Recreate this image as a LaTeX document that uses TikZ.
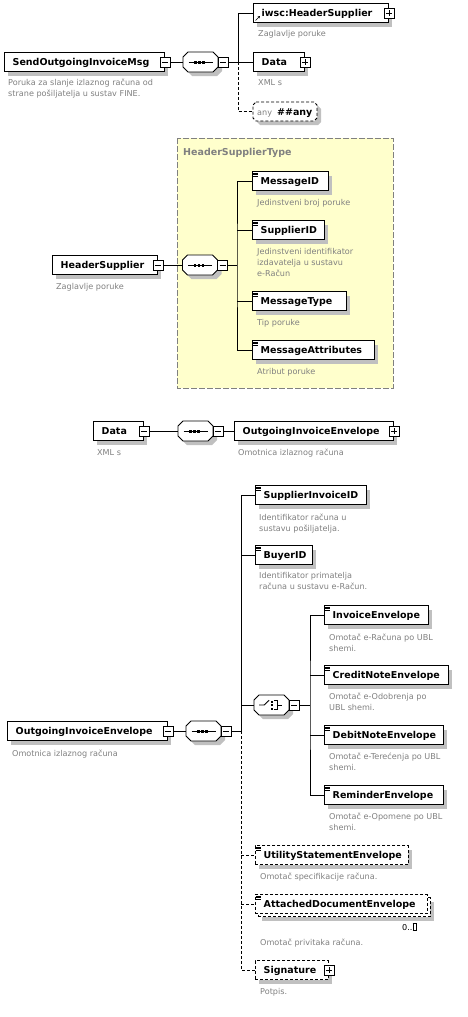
\documentclass[tikz,border=0pt]{standalone}
\usepackage{fontspec}
\setmainfont{DejaVu Sans}
\usetikzlibrary{calc,shadows,arrows.meta}
\definecolor{descgray}{HTML}{808080}
\definecolor{shgray}{HTML}{C0C0C0}
\definecolor{typeyellow}{HTML}{FFFFCC}
\tikzset{
  conn/.style={line width=0.9pt},
  dconn/.style={line width=0.9pt, dash pattern=on 3pt off 2pt},
  shad/.style={drop shadow={shadow xshift=4pt, shadow yshift=-4pt, fill=shgray, opacity=1}},
  ebox/.style={draw=black, fill=white, minimum height=19pt, inner sep=0pt, line width=0.9pt},
  eboxs/.style={ebox, shad},
  dbox/.style={ebox, dash pattern=on 3pt off 2pt},
  dboxs/.style={dbox, shad},
  ename/.style={font=\fontsize{9.5}{11}\bfseries\selectfont, inner sep=0pt},
  desc/.style={font=\fontsize{8.1}{10.7}\selectfont, text=descgray, inner sep=0pt, align=left},
  pmbox/.style={draw=black, fill=white, minimum size=10pt, inner sep=0pt, line width=0.8pt},
  pmsign/.style={line width=0.8pt},
  anchorbox/.style={minimum width=35pt, minimum height=20pt, inner sep=0pt},
}
\newcommand\elem[6][eboxs]{%
  \node[#1, minimum width=#5, anchor=west] (#2) at (#3,#4) {};
  \node[ename, anchor=base west] (#2t) at ($(#2.west)+(8.5,3.5)$) {#6};}
\newcommand\dsc[4]{\node[desc, anchor=north west] (#1) at (#2,#3-4.4) {\rule{0pt}{7pt}#4};}
\newcommand\pmminus[2]{\node[pmbox] (#1) at (#2) {};
  \draw[pmsign] ($(#1.center)+(-3,0)$) -- ($(#1.center)+(3,0)$);}
\newcommand\pmplus[2]{\pmminus{#1}{#2}
  \draw[pmsign] ($(#1.center)+(0,-3)$) -- ($(#1.center)+(0,3)$);}
\newcommand\octshape[6]{\path[#6] (#1-#3+#5,#2-#4) -- (#1+#3-#5,#2-#4) -- (#1+#3,#2-#4+#5) -- (#1+#3,#2+#4-#5) -- (#1+#3-#5,#2+#4) -- (#1-#3+#5,#2+#4) -- (#1-#3,#2+#4-#5) -- (#1-#3,#2-#4+#5) -- cycle;}
\newcommand\compframe[3]{%
  \octshape{#2+4}{#3+4}{17.5}{10}{5}{fill=shgray}
  \octshape{#2}{#3}{17.5}{10}{5}{fill=white, draw=black, conn}
  \node[anchorbox] (#1) at (#2,#3) {};
  \pmminus{#1pm}{#2+22.5,#3}}
\newcommand\seqcomp[3]{\compframe{#1}{#2}{#3}
  \draw[conn] (#2-12,#3) -- (#2+12,#3);
  \foreach \dx in {-5,-1,3} {\fill (#2+\dx-1.2,#3-1.5) rectangle ++(2.4,3);}}
\newcommand\choicecomp[3]{\compframe{#1}{#2}{#3}
  \draw[conn] (#2-12.4,#3) -- (#2-7.4,#3) -- (#2-2.4,#3-4.7);
  \foreach \dy in {-4.5,-1,2.5} {\fill (#2-1,#3+\dy) rectangle ++(2.6,2.2);}
  \draw[conn] (#2+2.6,#3-4.5) -- (#2+5.6,#3-4.5) -- (#2+5.6,#3+4.5) -- (#2+2.6,#3+4.5) (#2+5.6,#3) -- (#2+10,#3);}
\newcommand\sicon[1]{\draw[line width=0.6pt] ($(#1.north west)+(1,2)$) -- ++(5,0) ($(#1.north west)+(1,3.5)$) -- ++(5,0) ($(#1.north west)+(1,5)$) -- ++(5,0);}
\begin{document}
\begin{tikzpicture}[x=1pt,y=-1pt]
\fill[white] (0,0) rectangle (467,1017);
\useasboundingbox (0,0) rectangle (467,1017);
% ---------- Section 1
\elem{send}{4}{62}{160}{SendOutgoingInvoiceMsg}
\pmminus{sendpm}{send.east}
\dsc{senddesc}{8}{82.7}{Poruka za slanje izlaznog računa od\\strane pošiljatelja u sustav FINE.}
\seqcomp{seq1}{200.5}{62}
\elem{hsup}{253}{13}{135}{iwsc:HeaderSupplier}
\pmplus{hsuppm}{hsup.east}
\draw[-{Stealth[length=2.5pt,width=2.5pt]}, line width=0.7pt] (255.5,20.5) -- (260,16);
\dsc{hsupdesc}{258}{34}{Zaglavlje poruke}
\elem{data1}{253}{62}{51}{Data}
\pmplus{data1pm}{data1.east}
\dsc{data1desc}{258}{83}{XML s}
\octshape{285+4}{111.5+4}{32}{9.5}{3}{fill=shgray}
\octshape{285}{111.5}{32}{9.5}{3}{fill=white,draw=black,dconn}
\node[inner sep=0pt, minimum width=64pt, minimum height=19pt] (any) at (285,111.5) {};
\node[anchor=base west, inner sep=0pt, font=\fontsize{8.1}{10}\selectfont] (anyt) at (257,115) {\textcolor{descgray}{any}\hspace{5pt}{\fontsize{9.5}{11}\bfseries\#\#any}};
\coordinate (j1) at (238,62);
\draw[conn] (sendpm.east) -- (seq1.west);
\draw[conn] (seq1pm.east) -- (j1);
\draw[conn] (hsup.west) -| (j1) -- (data1.west);
\draw[dconn] (j1) |- (any.west);
% ---------- Section 2
\draw[draw=descgray, fill=typeyellow, dash pattern=on 6pt off 2pt, line width=0.9pt] (177,138) rectangle (393,388);
\node[ename, text=descgray, anchor=base west] (hstitle) at (183,155.5) {HeaderSupplierType};
\elem{hs2}{52}{265}{105}{HeaderSupplier}
\pmminus{hs2pm}{hs2.east}
\dsc{hs2desc}{56}{287}{Zaglavlje poruke}
\seqcomp{seq2}{200}{265}
\coordinate (j2) at (237,265);
\draw[conn] (hs2pm.east) -- (seq2.west);
\draw[conn] (seq2pm.east) -- (j2);
\elem{msgid}{252}{181}{76}{MessageID}\sicon{msgid}
\dsc{msgiddesc}{257}{203}{Jedinstveni broj poruke}
\elem{supid}{252}{230}{72}{SupplierID}\sicon{supid}
\dsc{supiddesc}{257}{252}{Jedinstveni identifikator\\izdavatelja u sustavu\\e-Račun}
\elem{msgtype}{252}{301}{94}{MessageType}\sicon{msgtype}
\dsc{msgtypedesc}{257}{323}{Tip poruke}
\elem{msgattr}{252}{350}{122}{MessageAttributes}\sicon{msgattr}
\dsc{msgattrdesc}{257}{372}{Atribut poruke}
\draw[conn] (msgid.west) -| (j2) |- (msgattr.west);
\draw[conn] (supid.west -| j2) -- (supid.west);
\draw[conn] (msgtype.west -| j2) -- (msgtype.west);
% ---------- Section 3
\elem{data2}{93}{431}{50}{Data}
\pmminus{data2pm}{data2.east}
\dsc{data2desc}{97}{453}{XML s}
\seqcomp{seq3}{195.5}{431}
\elem{oie1}{234}{431}{159}{OutgoingInvoiceEnvelope}
\pmplus{oie1pm}{oie1.east}
\dsc{oie1desc}{238}{453}{Omotnica izlaznog računa}
\draw[conn] (data2pm.east) -- (seq3.west);
\draw[conn] (seq3pm.east) -- (oie1.west);
% ---------- Section 4
\elem{oie2}{7}{731}{160}{OutgoingInvoiceEnvelope}
\pmminus{oie2pm}{oie2.east}
\dsc{oie2desc}{12}{754}{Omotnica izlaznog računa}
\seqcomp{seq4}{203.5}{731}
\coordinate (j4) at (241,731);
\coordinate (j4b) at (241,970);
\draw[conn] (oie2pm.east) -- (seq4.west);
\draw[conn] (seq4pm.east) -- (j4);
\elem{sid}{255}{495}{111}{SupplierInvoiceID}\sicon{sid}
\dsc{siddesc}{259}{518}{Identifikator računa u\\sustavu pošiljatelja.}
\elem{buyer}{255}{555}{57}{BuyerID}\sicon{buyer}
\dsc{buyerdesc}{259}{576}{Identifikator primatelja\\računa u sustavu e-Račun.}
\choicecomp{ch}{271.5}{705}
\coordinate (j5) at (310,705);
\draw[conn] (j4) |- (sid.west);
\draw[conn] (buyer.west -| j4) -- (buyer.west);
\draw[conn] (ch.west -| j4) -- (ch.west);
\draw[conn] (chpm.east) -- (j5);
\elem{inv}{324}{615}{104}{InvoiceEnvelope}\sicon{inv}
\dsc{invdesc}{329}{638}{Omotač e-Računa po UBL\\shemi.}
\elem{cn}{324}{675}{124}{CreditNoteEnvelope}\sicon{cn}
\dsc{cndesc}{329}{697}{Omotač e-Odobrenja po\\UBL shemi.}
\elem{dn}{324}{735}{119}{DebitNoteEnvelope}\sicon{dn}
\dsc{dndesc}{329}{757}{Omotač e-Terećenja po UBL\\shemi.}
\elem{rem}{324}{795}{119}{ReminderEnvelope}\sicon{rem}
\dsc{remdesc}{329}{817}{Omotač e-Opomene po UBL\\shemi.}
\draw[conn] (inv.west) -| (j5) |- (rem.west);
\draw[conn] (cn.west -| j5) -- (cn.west);
\draw[conn] (dn.west -| j5) -- (dn.west);
\elem[dboxs]{util}{255}{855}{153}{UtilityStatementEnvelope}\sicon{util}
\dsc{utildesc}{260}{877}{Omotač specifikacije računa.}
\node[dboxs, minimum width=172, anchor=west] (attb) at (258,907) {};
\elem[dbox]{att}{255}{904}{172}{AttachedDocumentEnvelope}\sicon{att}
\node[anchor=base west, inner sep=0pt, font=\fontsize{8.1}{10}\selectfont] (attocc) at (402,930) {0..{\setlength{\fboxsep}{0pt}\setlength{\fboxrule}{0.6pt}\fbox{\rule{0pt}{6pt}\hspace{3pt}}}};
\dsc{attdesc}{260}{943}{Omotač privitaka računa.}
\elem[dboxs]{sig}{255}{970}{73}{Signature}
\pmplus{sigpm}{sig.east}
\dsc{sigdesc}{260}{992}{Potpis.}
\draw[dconn] (j4) -- (j4b) -- (sig.west);
\draw[dconn] (util.west -| j4) -- (util.west);
\draw[dconn] (att.west -| j4) -- (att.west);
\end{tikzpicture}
\end{document}
